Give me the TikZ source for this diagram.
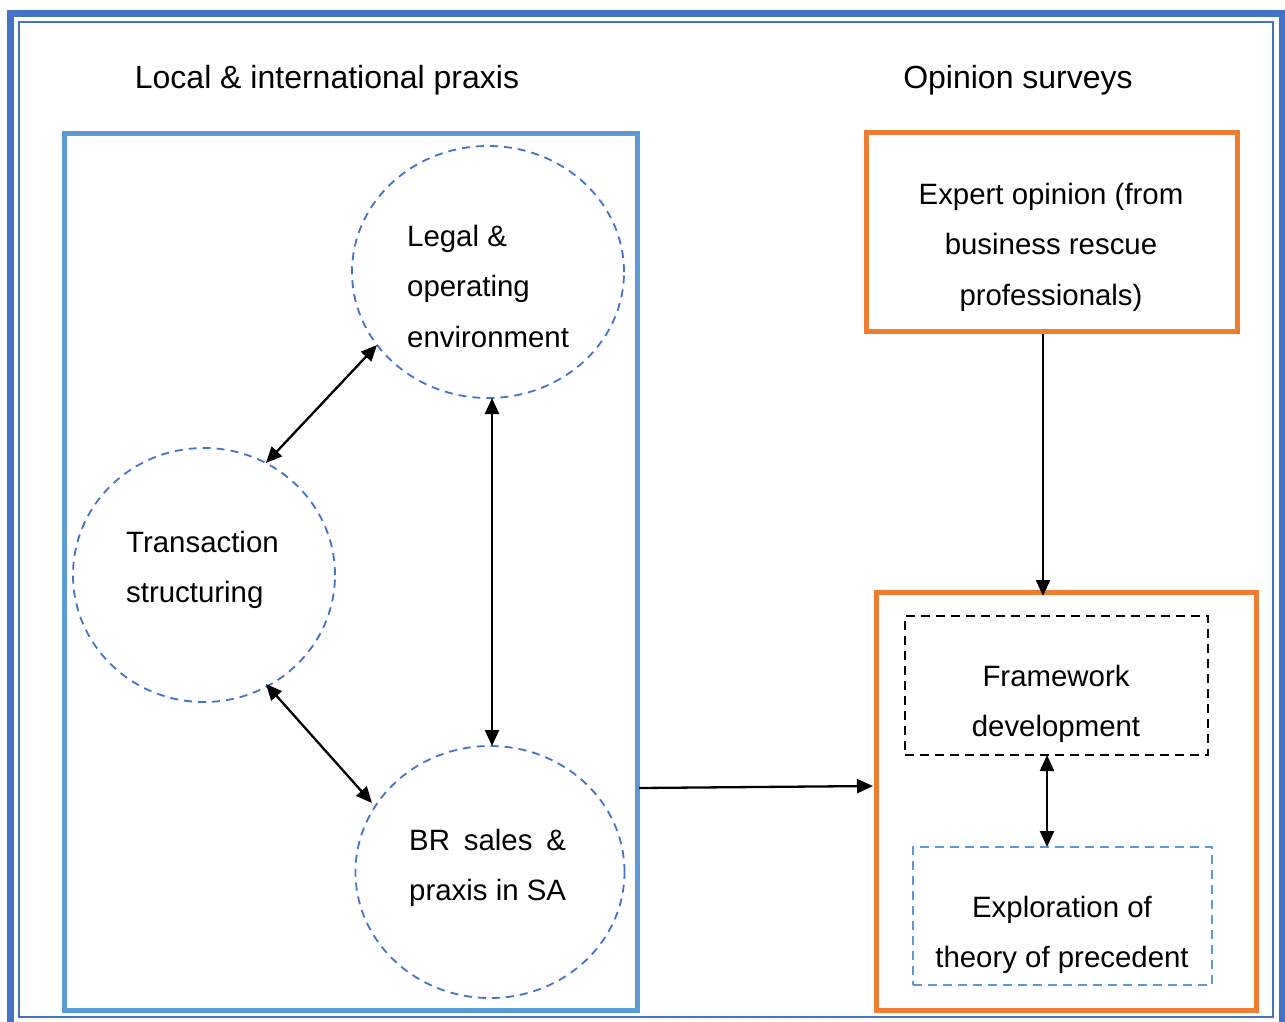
\documentclass[tikz,border=0pt]{standalone}
\usepackage{fontspec}
\setmainfont{Liberation Sans}
\usepackage{calc}
\usetikzlibrary{arrows.meta,shapes.geometric}
\definecolor{dblue}{HTML}{4472C4}
\definecolor{lblue}{HTML}{5B9BD5}
\definecolor{orng}{HTML}{ED7D31}
\tikzset{
  txt/.style={font=\fontsize{29.4}{50.5}\selectfont, inner sep=0pt},
  ttl/.style={font=\fontsize{32}{38}\selectfont, inner sep=0pt},
  circ/.style={ellipse, draw=dblue, line width=1.8pt, dash pattern=on 8pt off 6pt, inner sep=0pt},
  obox/.style={draw=orng, line width=5pt},
  arr/.style={line width=2.3pt, -{Triangle[length=16pt,width=14pt]}},
  darr/.style={line width=2.3pt, {Triangle[length=16pt,width=14pt]}-{Triangle[length=16pt,width=14pt]}}
}
\begin{document}
\begin{tikzpicture}[x=1pt,y=-1pt]
\useasboundingbox (0,0) rectangle (1285,1021);
% outer double frame
\draw[dblue, line width=7pt] (10.5,13.5) rectangle (1282.5,1030);
\draw[dblue, line width=2pt] (19,22) rectangle (1273,1017);
% titles
\node[ttl] (t1) at (327,80) {Local \& international praxis};
\node[ttl] (t2) at (1018,80) {Opinion surveys};
% left box
\draw[lblue, line width=5pt] (64,133) rectangle (637,1010);
\coordinate (lbr) at (639,788);
% circles
\node[circ, minimum width=272pt, minimum height=252pt] (legal) at (488,272) {};
\node[circ, minimum width=262pt, minimum height=254pt] (trans) at (204,575) {};
\node[circ, minimum width=269pt, minimum height=252pt] (br) at (490,872) {};
\node[txt, anchor=west, align=left] (legalt) at (407,286) {Legal \&\\operating\\environment};
\node[txt, anchor=west, align=left] (transt) at (126,570) {Transaction\\structuring};
\node[txt, anchor=west, align=left] (brt) at (409,868) {\makebox[\widthof{praxis in SA}][s]{BR\hfill sales\hfill\&}\\praxis in SA};
% expert box
\draw[obox] (866,132) rectangle (1237,331);
\node[txt, align=center] (exp) at (1051,247) {Expert opinion (from\\business rescue\\professionals)};
\coordinate (expb) at (1043,334);
% right box
\draw[obox] (876,592) rectangle (1256,1010);
\coordinate (rtop) at (1043,596);
\coordinate (rleft) at (873,786);
% framework
\node[draw=black, line width=2.2pt, dash pattern=on 9pt off 6pt, minimum width=303pt, minimum height=139pt, inner sep=0pt] (fw) at (1056.5,685.5) {};
\node[txt, align=center] (fwt) at (1056,704) {Framework\\development};
% exploration
\node[draw=lblue, line width=2pt, dash pattern=on 9pt off 6pt, minimum width=299pt, minimum height=138pt, inner sep=0pt] (ex) at (1062.5,916) {};
\node[txt, align=center] (ext) at (1062,935) {Exploration of\\theory of precedent};
% arrows
\draw[darr] (377,345) -- (266,463);
\draw[darr] (492,398) -- (492,746);
\draw[darr] (266,684) -- (372,803);
\draw[arr] (expb) -- (rtop);
\draw[arr] (lbr) -- (rleft);
\draw[darr] (1047,755) -- (1047,847);
\end{tikzpicture}
\end{document}
